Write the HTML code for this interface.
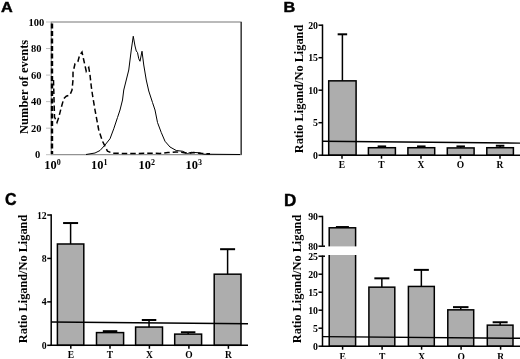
<!DOCTYPE html>
<html><head><meta charset="utf-8"><title>Figure</title>
<style>
html,body{margin:0;padding:0;background:#fff;}
body{width:520px;height:359px;overflow:hidden;}
svg{display:block;filter:blur(0.3px);}
.s{font-family:"Liberation Serif",serif;font-weight:bold;fill:#000;}
.p{font-family:"Liberation Sans",sans-serif;font-weight:bold;fill:#000;font-size:14.9px;stroke:#000;stroke-width:0.45px;}
.t{font-size:9.8px;}
.x{font-size:9.5px;}
.bar{fill:#adadad;stroke:#000;stroke-width:1.5;}
.k{stroke:#000;stroke-width:1.5;fill:none;}
.k1{stroke:#000;stroke-width:1;fill:none;}
</style></head><body>
<svg width="520" height="359" viewBox="0 0 520 359">
<rect width="520" height="359" fill="#fff"/>

<text class="p" transform="translate(1.0,11.9) scale(1.09,1)">A</text>
<rect x="51.2" y="22" width="190.0" height="132.7" fill="none" stroke="#777" stroke-width="1"/>
<line x1="241.2" y1="22" x2="241.2" y2="154.7" stroke="#333" stroke-width="1.3"/>
<line x1="46" y1="154.70" x2="51.2" y2="154.70" stroke="#c0c0c0" stroke-width="1"/>
<text class="s" font-size="10.5px" x="37.5" y="158.30" text-anchor="middle">0</text>
<line x1="46" y1="128.16" x2="51.2" y2="128.16" stroke="#c0c0c0" stroke-width="1"/>
<text class="s" font-size="10.5px" x="36.3" y="131.76" text-anchor="middle">20</text>
<line x1="46" y1="101.62" x2="51.2" y2="101.62" stroke="#c0c0c0" stroke-width="1"/>
<text class="s" font-size="10.5px" x="36.3" y="105.22" text-anchor="middle">40</text>
<line x1="46" y1="75.08" x2="51.2" y2="75.08" stroke="#c0c0c0" stroke-width="1"/>
<text class="s" font-size="10.5px" x="36.3" y="78.68" text-anchor="middle">60</text>
<line x1="46" y1="48.54" x2="51.2" y2="48.54" stroke="#c0c0c0" stroke-width="1"/>
<text class="s" font-size="10.5px" x="36.3" y="52.14" text-anchor="middle">80</text>
<line x1="46" y1="22.00" x2="51.2" y2="22.00" stroke="#c0c0c0" stroke-width="1"/>
<text class="s" font-size="10.5px" x="36.3" y="25.60" text-anchor="middle">100</text>
<text class="s" font-size="12.4px" x="44.3" y="168.6">10<tspan dy="-4" font-size="8px">0</tspan></text>
<text class="s" font-size="12.4px" x="91" y="168.6">10<tspan dy="-4" font-size="8px">1</tspan></text>
<text class="s" font-size="12.4px" x="138.6" y="168.6">10<tspan dy="-4" font-size="8px">2</tspan></text>
<text class="s" font-size="12.4px" x="185.6" y="168.6">10<tspan dy="-4" font-size="8px">3</tspan></text>
<text class="s" font-size="12.5px" transform="translate(28,86.9) rotate(-90)" text-anchor="middle">Number of events</text>
<polyline class="k1" stroke-linejoin="round" points="86,154.5 95,153 100,150.5 105,145 110,138.75 113.75,128.75 117.5,117.5 120,110 122.5,100 123.75,90 125,85 126.25,80 128.75,70 131.25,50 133.25,36.25 135,46 136.25,51 137.5,52.5 138.75,58.75 140,61.25 142,51.25 143.75,65 146.25,80 148.75,91 152.5,102.5 155,110 157.5,122.5 161.25,132.5 165,141.25 170,147 176.25,150.5 182.5,151.25 187.5,153.5 191.25,152.3 200,152.8 203.75,154.2 240,154.5"/>
<polyline stroke="#000" stroke-width="1.5" fill="none" stroke-dasharray="5.5 3" points="53.5,80 54.5,117 57,122.5 58.75,117.5 61.25,107.5 63.75,98.75 66.25,96.25 70,95 72,90 73,80 73,72.5 75,63.75 78,61.25 79.5,55.5 82,52 83.75,60 86.25,71.25 88.75,67.5 90,75 91.25,86.25 92.5,95 95,110 98.75,130 102.5,141.25 107.5,151.25 112.5,153.2 120,153.4 135,153.4 150,153.3 160,153.4 168,152.6 176,152.0 183,152.4 188,153.6 194,152.6 200,153.4 210,153.8"/>
<line x1="52.0" y1="23.5" x2="52.0" y2="154" stroke="#000" stroke-width="2.4" stroke-dasharray="5 2.5"/>
<text class="p" style="font-size:14.9px;stroke-width:0.45px" transform="translate(283.4,12.2) scale(1.09,1)">B</text>
<line class="k" x1="342.4" y1="80.83999999999999" x2="342.4" y2="34.30"/>
<line class="k" stroke-width="2" x1="337.65" y1="34.30" x2="347.15" y2="34.30" style="stroke-width:2"/>
<rect class="bar" x="328.7" y="80.84" width="27.400000000000034" height="74.36"/>
<line class="k" x1="381.9" y1="147.725" x2="381.9" y2="146.42"/>
<line class="k" stroke-width="2" x1="377.65" y1="146.42" x2="386.15" y2="146.42" style="stroke-width:2"/>
<rect class="bar" x="368.4" y="147.72" width="27.0" height="7.47"/>
<line class="k" x1="421.29999999999995" y1="147.725" x2="421.29999999999995" y2="146.42"/>
<line class="k" stroke-width="2" x1="417.04999999999995" y1="146.42" x2="425.54999999999995" y2="146.42" style="stroke-width:2"/>
<rect class="bar" x="407.9" y="147.72" width="26.80000000000001" height="7.47"/>
<line class="k" x1="460.70000000000005" y1="147.92" x2="460.70000000000005" y2="146.42"/>
<line class="k" stroke-width="2" x1="456.45000000000005" y1="146.42" x2="464.95000000000005" y2="146.42" style="stroke-width:2"/>
<rect class="bar" x="447.3" y="147.92" width="26.80000000000001" height="7.28"/>
<line class="k" x1="500.1" y1="147.725" x2="500.1" y2="145.77"/>
<line class="k" stroke-width="2" x1="495.85" y1="145.77" x2="504.35" y2="145.77" style="stroke-width:2"/>
<rect class="bar" x="486.8" y="147.72" width="26.599999999999966" height="7.47"/>
<line class="k" x1="322.5" y1="24.44999999999999" x2="322.5" y2="155.95"/>
<line class="k" x1="321.75" y1="155.2" x2="520" y2="155.2"/>
<line class="k" x1="318.5" y1="155.2" x2="322.5" y2="155.2"/>
<text class="s t" x="318.0" y="158.80" text-anchor="end">0</text>
<line class="k" x1="318.5" y1="122.69999999999999" x2="322.5" y2="122.69999999999999"/>
<text class="s t" x="318.0" y="126.30" text-anchor="end">5</text>
<line class="k" x1="318.5" y1="90.19999999999999" x2="322.5" y2="90.19999999999999"/>
<text class="s t" x="318.0" y="93.80" text-anchor="end">10</text>
<line class="k" x1="318.5" y1="57.69999999999999" x2="322.5" y2="57.69999999999999"/>
<text class="s t" x="318.0" y="61.30" text-anchor="end">15</text>
<line class="k" x1="318.5" y1="25.19999999999999" x2="322.5" y2="25.19999999999999"/>
<text class="s t" x="318.0" y="28.80" text-anchor="end">20</text>
<line class="k" x1="342" y1="155.2" x2="342" y2="158.7"/>
<text class="s x" x="342" y="168.3" text-anchor="middle">E</text>
<line class="k" x1="381.5" y1="155.2" x2="381.5" y2="158.7"/>
<text class="s x" x="381.5" y="168.3" text-anchor="middle">T</text>
<line class="k" x1="421" y1="155.2" x2="421" y2="158.7"/>
<text class="s x" x="421" y="168.3" text-anchor="middle">X</text>
<line class="k" x1="460.5" y1="155.2" x2="460.5" y2="158.7"/>
<text class="s x" x="460.5" y="168.3" text-anchor="middle">O</text>
<line class="k" x1="500" y1="155.2" x2="500" y2="158.7"/>
<text class="s x" x="500" y="168.3" text-anchor="middle">R</text>
<line class="k1" style="stroke-width:1.4" x1="322.5" y1="141.3" x2="520" y2="143.1"/>
<text class="s" font-size="12.3px" transform="translate(303.2,89) rotate(-90)" text-anchor="middle" textLength="128.5" lengthAdjust="spacingAndGlyphs">Ratio Ligand/No Ligand</text>
<text class="p" style="font-size:17.2px;stroke-width:0.45px" transform="translate(5.0,205.0) scale(0.93,1)">C</text>
<line class="k" x1="70.6" y1="243.99175" x2="70.6" y2="223.04"/>
<line class="k" stroke-width="2" x1="63.099999999999994" y1="223.04" x2="78.1" y2="223.04" style="stroke-width:2"/>
<rect class="bar" x="57.4" y="243.99" width="26.4" height="101.31"/>
<line class="k" x1="110.05" y1="332.59575" x2="110.05" y2="331.18"/>
<line class="k" stroke-width="2" x1="102.8" y1="331.18" x2="117.3" y2="331.18" style="stroke-width:2"/>
<rect class="bar" x="96.5" y="332.60" width="27.099999999999994" height="12.70"/>
<line class="k" x1="149.05" y1="327.058" x2="149.05" y2="320.00"/>
<line class="k" stroke-width="2" x1="141.8" y1="320.00" x2="156.3" y2="320.00" style="stroke-width:2"/>
<rect class="bar" x="135.6" y="327.06" width="26.900000000000006" height="18.24"/>
<line class="k" x1="188.14999999999998" y1="334.1159166666667" x2="188.14999999999998" y2="332.27"/>
<line class="k" stroke-width="2" x1="180.89999999999998" y1="332.27" x2="195.39999999999998" y2="332.27" style="stroke-width:2"/>
<rect class="bar" x="174.7" y="334.12" width="26.900000000000006" height="11.18"/>
<line class="k" x1="227.6" y1="274.17791666666665" x2="227.6" y2="249.20"/>
<line class="k" stroke-width="2" x1="220.1" y1="249.20" x2="235.1" y2="249.20" style="stroke-width:2"/>
<rect class="bar" x="214.2" y="274.18" width="26.80000000000001" height="71.12"/>
<line class="k" x1="51.2" y1="214.25" x2="51.2" y2="346.05"/>
<line class="k" x1="50.45" y1="345.3" x2="248" y2="345.3"/>
<line class="k" x1="47.2" y1="345.3" x2="51.2" y2="345.3"/>
<text class="s t" x="46.7" y="348.90" text-anchor="end">0</text>
<line class="k" x1="47.2" y1="301.8666666666667" x2="51.2" y2="301.8666666666667"/>
<text class="s t" x="46.7" y="305.47" text-anchor="end">4</text>
<line class="k" x1="47.2" y1="258.43333333333334" x2="51.2" y2="258.43333333333334"/>
<text class="s t" x="46.7" y="262.03" text-anchor="end">8</text>
<line class="k" x1="47.2" y1="215.0" x2="51.2" y2="215.0"/>
<text class="s t" x="46.7" y="218.60" text-anchor="end">12</text>
<line class="k" x1="70.8" y1="345.3" x2="70.8" y2="348.8"/>
<text class="s x" x="70.8" y="358" text-anchor="middle">E</text>
<line class="k" x1="110" y1="345.3" x2="110" y2="348.8"/>
<text class="s x" x="110" y="358" text-anchor="middle">T</text>
<line class="k" x1="149.4" y1="345.3" x2="149.4" y2="348.8"/>
<text class="s x" x="149.4" y="358" text-anchor="middle">X</text>
<line class="k" x1="188.9" y1="345.3" x2="188.9" y2="348.8"/>
<text class="s x" x="188.9" y="358" text-anchor="middle">O</text>
<line class="k" x1="228.4" y1="345.3" x2="228.4" y2="348.8"/>
<text class="s x" x="228.4" y="358" text-anchor="middle">R</text>
<line class="k1" style="stroke-width:1.4" x1="51.2" y1="322.0" x2="248" y2="323.8"/>
<text class="s" font-size="12.3px" transform="translate(27,279) rotate(-90)" text-anchor="middle" textLength="128.5" lengthAdjust="spacingAndGlyphs">Ratio Ligand/No Ligand</text>
<text class="p" style="font-size:17.2px;stroke-width:0.45px" transform="translate(283.9,206.0) scale(0.99,1)">D</text>
<line class="k" x1="342.4" y1="227.78599999999997" x2="342.4" y2="227.04"/>
<line class="k" stroke-width="2" x1="335.9" y1="227.04" x2="348.9" y2="227.04" style="stroke-width:2"/>
<rect class="bar" x="329.2" y="227.79" width="26.400000000000034" height="118.41"/>
<line class="k" x1="381.85" y1="287.15999999999997" x2="381.85" y2="278.34"/>
<line class="k" stroke-width="2" x1="374.35" y1="278.34" x2="389.35" y2="278.34" style="stroke-width:2"/>
<rect class="bar" x="368.9" y="287.16" width="25.900000000000034" height="59.04"/>
<line class="k" x1="421.35" y1="286.44" x2="421.35" y2="269.88"/>
<line class="k" stroke-width="2" x1="413.85" y1="269.88" x2="428.85" y2="269.88" style="stroke-width:2"/>
<rect class="bar" x="408.4" y="286.44" width="25.900000000000034" height="59.76"/>
<line class="k" x1="460.75" y1="309.84" x2="460.75" y2="307.14"/>
<line class="k" stroke-width="2" x1="453.0" y1="307.14" x2="468.5" y2="307.14" style="stroke-width:2"/>
<rect class="bar" x="447.8" y="309.84" width="25.899999999999977" height="36.36"/>
<line class="k" x1="500.15" y1="325.14" x2="500.15" y2="322.26"/>
<line class="k" stroke-width="2" x1="492.65" y1="322.26" x2="507.65" y2="322.26" style="stroke-width:2"/>
<rect class="bar" x="487.3" y="325.14" width="25.69999999999999" height="21.06"/>
<rect x="324.5" y="246.4" width="60" height="8.599999999999994" fill="#fff"/>
<line class="k" x1="322.5" y1="215.75" x2="322.5" y2="245.9"/>
<line class="k" x1="322.5" y1="255.5" x2="322.5" y2="346.95"/>
<line class="k" x1="321.75" y1="346.2" x2="520" y2="346.2"/>
<line class="k" x1="318.5" y1="346.2" x2="322.5" y2="346.2"/>
<text class="s t" x="318.0" y="349.80" text-anchor="end">0</text>
<line class="k" x1="318.5" y1="328.2" x2="322.5" y2="328.2"/>
<text class="s t" x="318.0" y="331.80" text-anchor="end">5</text>
<line class="k" x1="318.5" y1="310.2" x2="322.5" y2="310.2"/>
<text class="s t" x="318.0" y="313.80" text-anchor="end">10</text>
<line class="k" x1="318.5" y1="292.2" x2="322.5" y2="292.2"/>
<text class="s t" x="318.0" y="295.80" text-anchor="end">15</text>
<line class="k" x1="318.5" y1="274.2" x2="322.5" y2="274.2"/>
<text class="s t" x="318.0" y="277.80" text-anchor="end">20</text>
<line class="k" x1="318.5" y1="256.2" x2="325.0" y2="256.2"/>
<text class="s t" x="318.0" y="259.80" text-anchor="end">25</text>
<line class="k" x1="318.5" y1="246.2" x2="325.0" y2="246.2"/>
<text class="s t" x="318.0" y="249.80" text-anchor="end">80</text>
<line class="k" x1="318.5" y1="216.5" x2="322.5" y2="216.5"/>
<text class="s t" x="318.0" y="220.10" text-anchor="end">90</text>
<line class="k" x1="342.6" y1="346.2" x2="342.6" y2="349.7"/>
<text class="s x" x="342.6" y="359.8" text-anchor="middle">E</text>
<line class="k" x1="382.1" y1="346.2" x2="382.1" y2="349.7"/>
<text class="s x" x="382.1" y="359.8" text-anchor="middle">T</text>
<line class="k" x1="421.6" y1="346.2" x2="421.6" y2="349.7"/>
<text class="s x" x="421.6" y="359.8" text-anchor="middle">X</text>
<line class="k" x1="461.1" y1="346.2" x2="461.1" y2="349.7"/>
<text class="s x" x="461.1" y="359.8" text-anchor="middle">O</text>
<line class="k" x1="500.6" y1="346.2" x2="500.6" y2="349.7"/>
<text class="s x" x="500.6" y="359.8" text-anchor="middle">R</text>
<line class="k1" style="stroke-width:1.4" x1="322.5" y1="336.6" x2="520" y2="338.3"/>
<text class="s" font-size="12.3px" transform="translate(301.3,279) rotate(-90)" text-anchor="middle" textLength="128.5" lengthAdjust="spacingAndGlyphs">Ratio Ligand/No Ligand</text>
</svg></body></html>
